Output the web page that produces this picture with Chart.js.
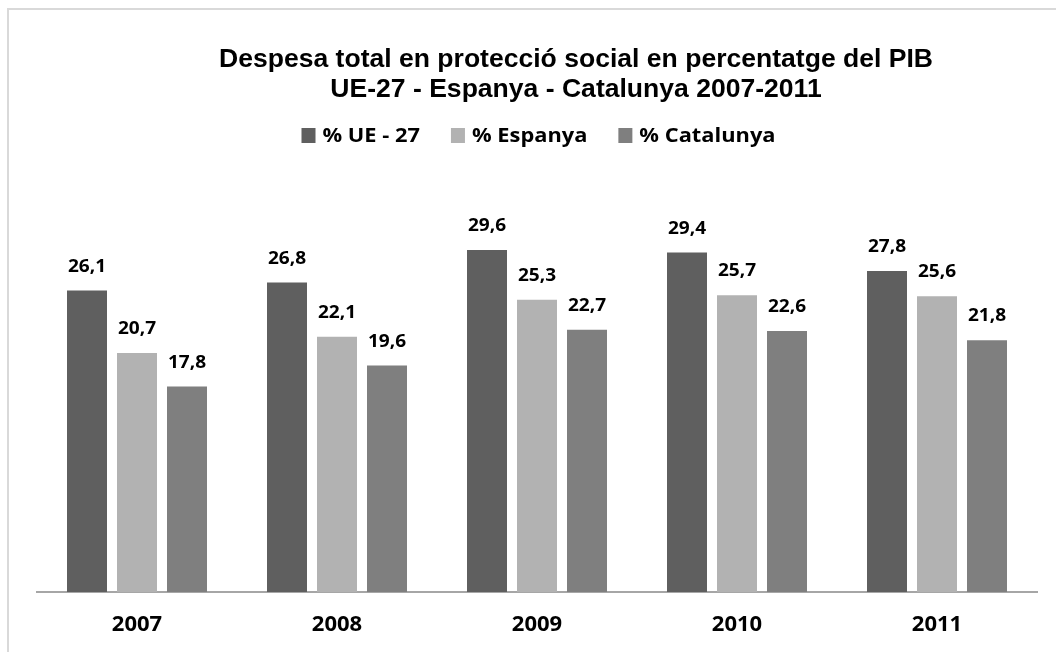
<!DOCTYPE html>
<html>
<head>
<meta charset="utf-8">
<script src="https://cdn.jsdelivr.net/npm/chart.js@4.4.0/dist/chart.umd.min.js"></script>
<style>
  html,body{margin:0;padding:0;background:#fff;overflow:hidden;}
  #frame{position:absolute;left:7px;top:8px;width:1200px;height:800px;border:2px solid #d9d9d9;box-sizing:border-box;}
  #c{position:absolute;left:0;top:0;}
</style>
</head>
<body>
<div id="frame"></div>
<canvas id="c" width="1056" height="652"></canvas>
<script>
const categories = ['2007', '2008', '2009', '2010', '2011'];
const seriesNames = ['% UE - 27', '% Espanya', '% Catalunya'];
const ue27 = [26.1, 26.8, 29.6, 29.4, 27.8];
const espanya = [20.7, 22.1, 25.3, 25.7, 25.6];
const catalunya = [17.8, 19.6, 22.7, 22.6, 21.8];
const colors = ['#5f5f5f', '#b2b2b2', '#7f7f7f'];
const titleLines = ['Despesa total en protecció social en percentatge del PIB', 'UE-27 - Espanya - Catalunya 2007-2011'];

const fmt = v => v.toFixed(1).replace('.', ',');

function stretchedText(ctx, text, x, y, sx) {
  ctx.save();
  ctx.translate(x, y);
  ctx.scale(sx, 1);
  ctx.fillText(text, 0, 0);
  ctx.restore();
}

const overlay = {
  id: 'overlay',
  afterDatasetsDraw(chart) {
    const ctx = chart.ctx;
    ctx.save();
    // data labels
    ctx.font = 'bold 18px "Open Sans"';
    ctx.fillStyle = '#000';
    ctx.textAlign = 'center';
    ctx.textBaseline = 'middle';
    chart.data.datasets.forEach((ds, i) => {
      const meta = chart.getDatasetMeta(i);
      meta.data.forEach((bar, j) => {
        stretchedText(ctx, fmt(ds.data[j]), bar.x, bar.y - 24, 1.06);
      });
    });
    // title (slightly stretched horizontally like the source)
    ctx.font = 'bold 25px "Liberation Sans", Arial';
    const sx = 714 / ctx.measureText(titleLines[0]).width;
    stretchedText(ctx, titleLines[0], 576, 60, sx);
    stretchedText(ctx, titleLines[1], 576, 90, sx);
    // legend
    ctx.font = 'bold 20px "Open Sans"';
    const box = 14, gapText = 7, gapItem = 31;
    const raw = chart.data.datasets.map(ds => ctx.measureText(ds.label).width);
    const lsx = 349 / raw.reduce((a, b) => a + b, 0);
    const widths = raw.map(w => w * lsx);
    const n = chart.data.datasets.length;
    const total = widths.reduce((a, b) => a + b, 0) + n * (box + gapText) + gapItem * (n - 1);
    let x = 538.5 - total / 2;
    const ly = 136;
    ctx.textAlign = 'left';
    chart.data.datasets.forEach((ds, i) => {
      ctx.fillStyle = ds.backgroundColor;
      ctx.fillRect(x, ly - 8, box, 15);
      x += box + gapText;
      ctx.fillStyle = '#000';
      stretchedText(ctx, ds.label, x, ly, lsx);
      x += widths[i] + gapItem;
    });
    ctx.restore();
  }
};

new Chart(document.getElementById('c'), {
  type: 'bar',
  data: {
    labels: categories,
    datasets: [
      { label: seriesNames[0], data: ue27, backgroundColor: colors[0] },
      { label: seriesNames[1], data: espanya, backgroundColor: colors[1] },
      { label: seriesNames[2], data: catalunya, backgroundColor: colors[2] }
    ]
  },
  options: {
    responsive: false,
    animation: false,
    devicePixelRatio: 1,
    layout: { padding: { top: 245.5, left: 37, right: 19, bottom: 0 } },
    datasets: { bar: { categoryPercentage: 0.75, barPercentage: 0.8 } },
    plugins: { legend: { display: false }, title: { display: false }, tooltip: { enabled: false } },
    scales: {
      x: {
        afterFit(scale) { scale.height = 60; },
        grid: { display: false, drawTicks: false },
        border: { display: true, color: '#a6a6a6', width: 2 },
        ticks: { color: '#000', font: { family: 'Open Sans', weight: 'bold', size: 22 }, padding: 20 }
      },
      y: {
        display: false,
        min: 0,
        max: 30
      }
    }
  },
  plugins: [overlay]
});
</script>
</body>
</html>
